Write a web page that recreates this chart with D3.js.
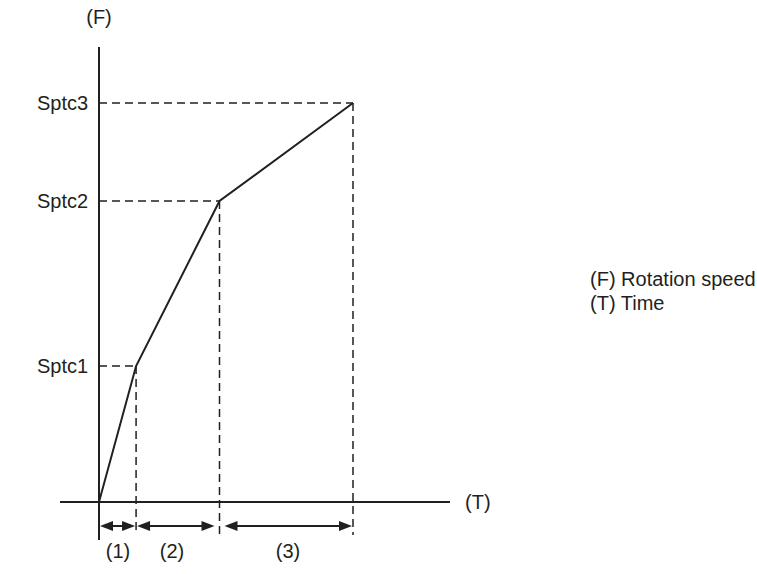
<!DOCTYPE html>
<html><head><meta charset="utf-8">
<script src="https://cdn.jsdelivr.net/npm/d3@7"></script>
<style>body{margin:0;background:#fff}svg{display:block}text{font-family:Arial,"Liberation Sans",sans-serif;fill:#231f20}</style>
</head><body><svg id="c" width="757" height="574"></svg>
<script>
const times = [0, 1, 3.25, 6.85];
const speeds = [0, 136, 301, 399];
const speedLabels = ["", "Sptc1", "Sptc2", "Sptc3"];
const intervalLabels = ["(1)", "(2)", "(3)"];
const legendLines = ["(F) Rotation speed", "(T) Time"];

const svg = d3.select("#c");
const x = d3.scaleLinear().domain([0, 6.85]).range([99, 353]);
const y = d3.scaleLinear().domain([0, 399]).range([502, 103]);
const ink = "#231f20";
const fs = 20;

// axes
svg.append("line").attr("x1", 60).attr("x2", 450).attr("y1", y(0)).attr("y2", y(0)).attr("stroke", ink).attr("stroke-width", 2);
svg.append("line").attr("x1", x(0)).attr("x2", x(0)).attr("y1", 47).attr("y2", 540).attr("stroke", ink).attr("stroke-width", 2);
svg.append("text").attr("x", x(0)).attr("y", 24).attr("text-anchor", "middle").attr("font-size", fs).text("(F)");
svg.append("text").attr("x", 465).attr("y", y(0) + 7).attr("font-size", fs).text("(T)");

const pts = times.map((t, i) => ({t, s: speeds[i], label: speedLabels[i]}));
// dashed guides
pts.slice(1).forEach(p => {
  svg.append("line").attr("x1", x(0)).attr("x2", x(p.t)).attr("y1", y(p.s)).attr("y2", y(p.s))
    .attr("stroke", ink).attr("stroke-width", 1.5).attr("stroke-dasharray", "8,5");
  svg.append("line").attr("x1", x(p.t)).attr("x2", x(p.t)).attr("y1", y(p.s)).attr("y2", 535)
    .attr("stroke", ink).attr("stroke-width", 1.5).attr("stroke-dasharray", "8,5");
  svg.append("text").attr("x", 37).attr("y", y(p.s) + 7).attr("font-size", fs).text(p.label);
});
// main line
svg.append("path").datum(pts).attr("fill", "none").attr("stroke", ink).attr("stroke-width", 2)
  .attr("d", d3.line().x(d => x(d.t)).y(d => y(d.s)));

// interval arrows
const ay = 526;
function arrow(x1, x2) {
  svg.append("line").attr("x1", x1 + 8).attr("x2", x2 - 8).attr("y1", ay).attr("y2", ay).attr("stroke", ink).attr("stroke-width", 2);
  svg.append("path").attr("fill", ink).attr("d", `M${x1},${ay}L${x1 + 13},${ay - 5}L${x1 + 13},${ay + 5}Z`);
  svg.append("path").attr("fill", ink).attr("d", `M${x2},${ay}L${x2 - 13},${ay - 5}L${x2 - 13},${ay + 5}Z`);
}
const gaps = [[1, 1], [1, 5], [5, 1]];
for (let i = 0; i < 3; i++) {
  const a = x(times[i]) + gaps[i][0], b = x(times[i + 1]) - gaps[i][1];
  arrow(a, b);
}
const labelX = [118, 172, 288];
intervalLabels.forEach((l, i) => {
  svg.append("text").attr("x", labelX[i]).attr("y", 558).attr("text-anchor", "middle").attr("font-size", fs).text(l);
});
legendLines.forEach((l, i) => {
  svg.append("text").attr("x", 590).attr("y", 286 + i * 24).attr("font-size", fs).text(l);
});
</script></body></html>
